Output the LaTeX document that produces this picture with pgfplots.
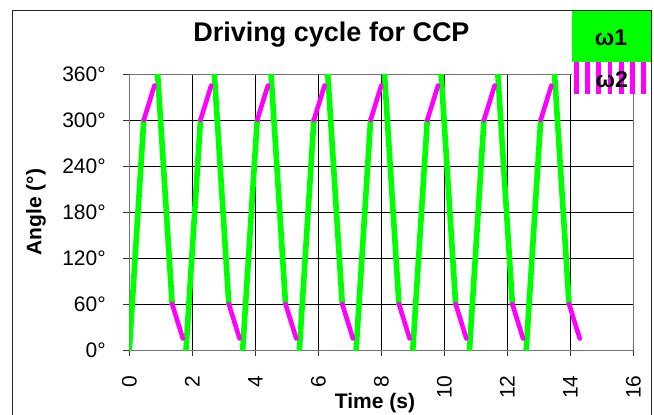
\documentclass[border=0pt]{standalone}
\usepackage{pgfplots}
\pgfplotsset{compat=1.18}
\usepackage{fontspec}
\setmainfont{Liberation Sans}
\definecolor{wone}{RGB}{0,255,0}
\definecolor{wtwo}{RGB}{255,0,255}
\begin{document}
\begin{tikzpicture}
\begin{axis}[
  at={(0,0)}, anchor=south west,
  scale only axis, width=252pt, height=138pt,
  xmin=0, xmax=16, ymin=0, ymax=360,
  xtick={0,2,...,16}, ytick={0,60,...,360},
  yticklabels={0°,60°,120°,180°,240°,300°,360°},
  /pgf/number format/assume math mode=true,
  xtick pos=left, ytick pos=left,
  tick align=outside, major tick length=3pt,
  major tick style={black!80, line width=0.5pt},
  grid=major, major grid style={black, line width=0.5pt},
  axis line style={black!55, line width=0.5pt},
  tick label style={font=\fontsize{10.5}{12}\selectfont, inner sep=0pt},
  xticklabel style={rotate=90, anchor=east},
  xticklabel shift=9.5pt,
  yticklabel style={anchor=east},
  yticklabel shift=8.6pt,
  unbounded coords=jump,
  xlabel={Time (s)}, ylabel={Angle (°)},
  label style={font=\bfseries\fontsize{10.5}{12}\selectfont},
  xlabel style={at={(axis description cs:0.4875,-0.192)}, anchor=center},
  ylabel style={at={(axis description cs:-0.185,0.5)}, anchor=center, rotate=0},
]
\addplot[wone, line width=2.8pt, line cap=round, line join=round] coordinates {
(0,0)(0.46,300)(0.6,nan)(0.9,360)(1.36,60)(1.5,nan)
(1.8,0)(2.26,300)(2.4,nan)(2.7,360)(3.16,60)(3.3,nan)
(3.6,0)(4.06,300)(4.2,nan)(4.5,360)(4.96,60)(5.1,nan)
(5.4,0)(5.86,300)(6.0,nan)(6.3,360)(6.76,60)(6.9,nan)
(7.2,0)(7.66,300)(7.8,nan)(8.1,360)(8.56,60)(8.7,nan)
(9.0,0)(9.46,300)(9.6,nan)(9.9,360)(10.36,60)(10.5,nan)
(10.8,0)(11.26,300)(11.4,nan)(11.7,360)(12.16,60)(12.3,nan)
(12.6,0)(13.06,300)(13.2,nan)(13.5,360)(13.96,60)
};
\addplot[wtwo, line width=2.3pt, line cap=round, line join=round] coordinates {
(0.46,300)(0.8,345)(0.85,nan)(1.36,60)(1.7,15)(1.75,nan)
(2.26,300)(2.6,345)(2.65,nan)(3.16,60)(3.5,15)(3.55,nan)
(4.06,300)(4.4,345)(4.45,nan)(4.96,60)(5.3,15)(5.35,nan)
(5.86,300)(6.2,345)(6.25,nan)(6.76,60)(7.1,15)(7.15,nan)
(7.66,300)(8.0,345)(8.05,nan)(8.56,60)(8.9,15)(8.95,nan)
(9.46,300)(9.8,345)(9.85,nan)(10.36,60)(10.7,15)(10.75,nan)
(11.26,300)(11.6,345)(11.65,nan)(12.16,60)(12.5,15)(12.55,nan)
(13.06,300)(13.4,345)(13.45,nan)(13.96,60)(14.3,15)
};
\end{axis}
% title
\node[font=\bfseries\fontsize{13.5}{16}\selectfont] at (101.1pt,157.5pt) {Driving cycle for CCP};
% legend
\fill[wone] (221.5pt,144.15pt) rectangle (260.7pt,170pt);
\fill[white] (221.5pt,127.85pt) rectangle (260.7pt,144.15pt);
\foreach \i in {0,...,6} {
  \fill[wtwo] ({222.35pt+5.6pt*\i},127.85pt) rectangle ({224.7pt+5.6pt*\i},144.15pt);
}
\node[font=\bfseries\fontsize{11.5}{13}\selectfont] at (240.85pt,156.15pt) {ω1};
\node[font=\bfseries\fontsize{11.5}{13}\selectfont] at (241.2pt,135pt) {ω2};
% chart frame
\draw[black!85, line width=0.5pt] (-58.3pt,-40pt) -- (-58.3pt,170pt) -- (261.2pt,170pt) -- (261.2pt,-40pt);
\pgfresetboundingbox
\path[use as bounding box] (-64.65pt,-32pt) rectangle (262.35pt,175pt);
\end{tikzpicture}
\end{document}
